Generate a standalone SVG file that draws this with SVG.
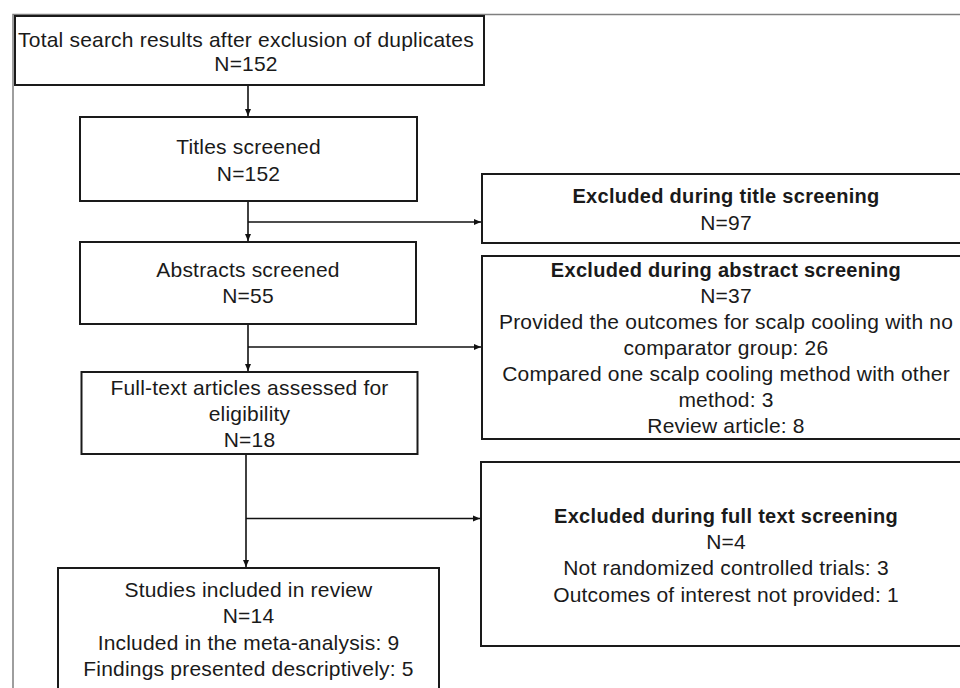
<svg xmlns="http://www.w3.org/2000/svg" width="960" height="688" viewBox="0 0 960 688">
<defs>
<marker id="ah" markerWidth="8" markerHeight="8" refX="7" refY="4" orient="auto" markerUnits="userSpaceOnUse">
<path d="M0,1 L7,4 L0,7 Z" fill="#111"/>
</marker>
<style>
.box{fill:#fff;stroke:#1a1a1a;stroke-width:2}
.t{font-family:"Liberation Sans",Arial,sans-serif;font-size:21px;letter-spacing:0.2px;fill:#1a1a1a;text-anchor:middle}
.b{font-weight:bold;font-size:20px;letter-spacing:0.3px}
.c{fill:none;stroke:#111;stroke-width:1.6}
.frame{fill:none;stroke:#7f7f7f;stroke-width:1.5}
</style>
</defs>
<rect width="960" height="688" fill="#fff"/>
<path class="frame" d="M13,688 V14.5 H960"/>
<g id="connectors">
<line class="c" x1="248" y1="86" x2="248" y2="116" marker-end="url(#ah)"/>
<line class="c" x1="248" y1="202" x2="248" y2="241" marker-end="url(#ah)"/>
<line class="c" x1="248" y1="222" x2="481" y2="222" marker-end="url(#ah)"/>
<line class="c" x1="248" y1="325" x2="248" y2="371" marker-end="url(#ah)"/>
<line class="c" x1="248" y1="347" x2="481" y2="347" marker-end="url(#ah)"/>
<line class="c" x1="246" y1="455" x2="246" y2="567" marker-end="url(#ah)"/>
<line class="c" x1="246" y1="518.5" x2="480" y2="518.5" marker-end="url(#ah)"/>
</g>
<g id="n1">
<rect class="box" x="15" y="16" width="469" height="69"/>
<text class="t" x="246" y="47">Total search results after exclusion of duplicates</text>
<text class="t" x="246" y="71">N=152</text>
</g>
<g id="n2">
<rect class="box" x="80" y="117" width="337" height="84"/>
<text class="t" x="248.5" y="154">Titles screened</text>
<text class="t" x="248.5" y="180.5">N=152</text>
</g>
<g id="n3">
<rect class="box" x="80" y="242" width="336" height="82"/>
<text class="t" x="248" y="277">Abstracts screened</text>
<text class="t" x="248" y="303">N=55</text>
</g>
<g id="n4">
<rect class="box" x="81.5" y="372" width="336" height="82"/>
<text class="t" x="249.5" y="395">Full-text articles assessed for</text>
<text class="t" x="249.5" y="420.5">eligibility</text>
<text class="t" x="249.5" y="446.5">N=18</text>
</g>
<g id="n5">
<rect class="box" x="58" y="568" width="381" height="140"/>
<text class="t" x="248.5" y="597">Studies included in review</text>
<text class="t" x="248.5" y="623">N=14</text>
<text class="t" x="248.5" y="650">Included in the meta-analysis: 9</text>
<text class="t" x="248.5" y="676">Findings presented descriptively: 5</text>
</g>
<g id="x1">
<rect class="box" x="482" y="174" width="500" height="69"/>
<text class="t b" x="726" y="203">Excluded during title screening</text>
<text class="t" x="726" y="230">N=97</text>
</g>
<g id="x2">
<rect class="box" x="482" y="256" width="500" height="183"/>
<text class="t b" x="726" y="277">Excluded during abstract screening</text>
<text class="t" x="726" y="303">N=37</text>
<text class="t" x="726" y="328.5">Provided the outcomes for scalp cooling with no</text>
<text class="t" x="726" y="354.5">comparator group: 26</text>
<text class="t" x="726" y="381">Compared one scalp cooling method with other</text>
<text class="t" x="726" y="407">method: 3</text>
<text class="t" x="726" y="433">Review article: 8</text>
</g>
<g id="x3">
<rect class="box" x="481" y="462" width="500" height="184"/>
<text class="t b" x="726" y="523">Excluded during full text screening</text>
<text class="t" x="726" y="549">N=4</text>
<text class="t" x="726" y="575">Not randomized controlled trials: 3</text>
<text class="t" x="726" y="601.5">Outcomes of interest not provided: 1</text>
</g>
</svg>
